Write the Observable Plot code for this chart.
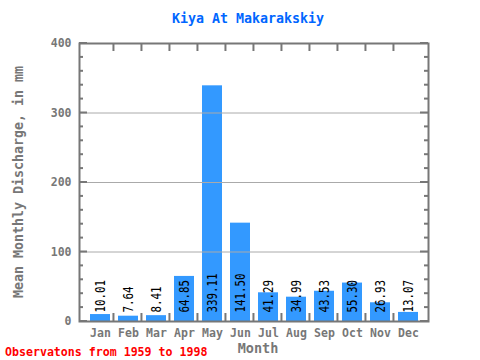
<!DOCTYPE html>
<html><head><meta charset="utf-8">
<script src="https://cdn.jsdelivr.net/npm/d3@7"></script>
<script src="https://cdn.jsdelivr.net/npm/@observablehq/plot@0.6"></script>
<style>body{margin:0;background:#fff}</style>
</head><body><div id="chart"></div>
<script>
const months = ["Jan","Feb","Mar","Apr","May","Jun","Jul","Aug","Sep","Oct","Nov","Dec"];
const values = [10.01,7.64,8.41,64.85,339.11,141.50,41.29,34.99,43.53,55.30,26.93,13.07];
const valueLabels = ["10.01","7.64","8.41","64.85","339.11","141.50","41.29","34.99","43.53","55.30","26.93","13.07"];
const yTicks = [0,100,200,300,400];
const yMinor = d3.range(0,401,20);
const title = "Kiya At Makarakskiy";
const xTitle = "Month";
const yTitle = "Mean Monthly Discharge, in mm";
const caption = "Observatons from 1959 to 1998";

const data = months.map((m,i)=>({month:m, value:values[i], label:valueLabels[i]}));
const font = "DejaVu Sans Mono";
const gray = "#777";

const plot = Plot.plot({
  width:480, height:360,
  marginLeft:79, marginRight:52, marginTop:43, marginBottom:39,
  style:{fontFamily:font, background:"#fff"},
  x:{type:"band", domain:months, padding:0.3, label:null},
  y:{domain:[0,400], label:null},
  marks:[
    Plot.barY(data,{x:"month", y:"value", fill:"#3399ff"}),
    Plot.gridY(yTicks.slice(1,4),{stroke:"#aaa", strokeOpacity:1, strokeWidth:1}),
    Plot.text(data,{x:"month", y:0, text:"label", rotate:-90, textAnchor:"start", dy:-9, fontSize:14, fill:"black", fontFamily:font, className:"vlab"}),
    Plot.axisX({tickSize:0, tickPadding:7, fontSize:11.5, fontWeight:"bold", fill:gray, label:null}),
    Plot.axisY({ticks:yTicks, tickSize:0, tickPadding:8, fontSize:11.5, fontWeight:"bold", fill:gray, label:null}),
    Plot.frame({stroke:gray, strokeWidth:2})
  ]
});
document.getElementById("chart").appendChild(plot);

const svg = d3.select(plot);
svg.selectAll(".vlab text").each(function(){
  const t = d3.select(this);
  t.attr("textLength", t.text().length*6.5).attr("lengthAdjust","spacingAndGlyphs");
});
const xs = plot.scale("x"), ys = plot.scale("y");
const x0 = 79, x1 = 428, yb = 321, yt = 43;
const step = (x1-x0)/12;
const g = svg.append("g").attr("stroke",gray).attr("stroke-width",2);
for (let i=1;i<12;i++){
  const xp = xs.apply(months[i]) - (step - xs.bandwidth)/2;
  g.append("line").attr("x1",xp).attr("x2",xp).attr("y1",yt).attr("y2",yt+8);
  g.append("line").attr("x1",xp).attr("x2",xp).attr("y1",yb).attr("y2",yb-8);
}
yMinor.forEach(v=>{
  const yp = ys.apply(v);
  const len = v%100===0 ? 8 : 4;
  g.append("line").attr("x1",x0).attr("x2",x0+len).attr("y1",yp).attr("y2",yp);
  g.append("line").attr("x1",x1).attr("x2",x1-len).attr("y1",yp).attr("y2",yp);
});
svg.append("text").attr("x",248).attr("y",23).attr("text-anchor","middle")
  .attr("font-family",font).attr("font-weight","bold").attr("font-size",13.3).attr("fill","#0066ff").text(title);
svg.append("text").attr("x",258).attr("y",353).attr("text-anchor","middle")
  .attr("font-family",font).attr("font-weight","bold").attr("font-size",13.5).attr("fill",gray).text(xTitle);
svg.append("text").attr("transform","translate(23,182) rotate(-90)").attr("text-anchor","middle")
  .attr("font-family",font).attr("font-weight","bold").attr("font-size",13.3).attr("fill",gray).text(yTitle);
svg.append("text").attr("x",5).attr("y",356).attr("text-anchor","start")
  .attr("font-family",font).attr("font-weight","bold").attr("font-size",11.6).attr("fill","#ff0000").text(caption);
</script></body></html>
